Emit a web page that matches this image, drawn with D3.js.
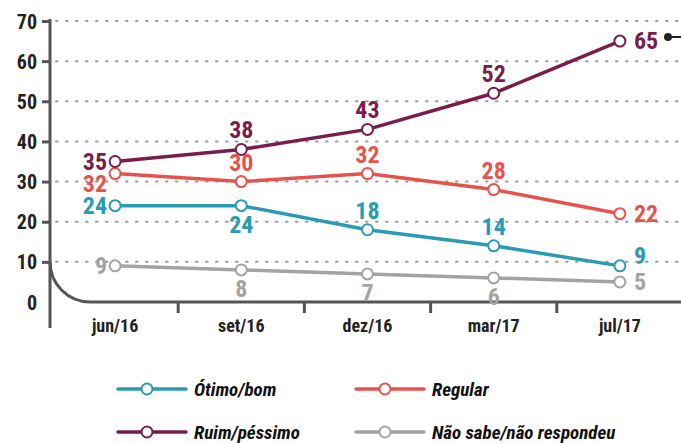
<!DOCTYPE html>
<html>
<head>
<meta charset="utf-8">
<script src="https://cdn.jsdelivr.net/npm/d3@7"></script>
<style>
  body { margin: 0; background: #fff; }
  svg text { font-family: "Liberation Sans Narrow", "Roboto Condensed", "DejaVu Sans Condensed", sans-serif; font-weight: bold; }
</style>
</head>
<body>
<div id="chart"></div>
<script>
// data
var months = ["jun/16", "set/16", "dez/16", "mar/17", "jul/17"];
var otimo = [24, 24, 18, 14, 9];
var regular = [32, 30, 32, 28, 22];
var ruim = [35, 38, 43, 52, 65];
var naoSabe = [9, 8, 7, 6, 5];
var yTicks = [0, 10, 20, 30, 40, 50, 60, 70];

// where each value label sits relative to its point
var series = [
  {name: "Não sabe/não respondeu", values: naoSabe, color: "#a3a3a3", pos: ["left", "below", "below", "below", "right"]},
  {name: "Ótimo/bom", values: otimo, color: "#2a9bb2", pos: ["left", "below", "above", "above", "rightUp"]},
  {name: "Regular", values: regular, color: "#e8524d", pos: ["leftDown", "above", "above", "above", "right"]},
  {name: "Ruim/péssimo", values: ruim, color: "#7a1d4a", pos: ["left", "above", "above", "above", "right"]}
];

var W = 681, H = 443;
var svg = d3.select("#chart").append("svg")
  .attr("width", W).attr("height", H);

var x = d3.scaleBand().domain(months).range([52, 683]);
var y = d3.scaleLinear().domain([0, 70]).range([302, 21]);
var cx = function (m) { return x(m) + x.bandwidth() / 2; };

var axisColor = "#555";

// dotted grid
svg.append("g").selectAll("line")
  .data(yTicks.filter(function (d) { return d > 0; }))
  .enter().append("line")
    .attr("x1", 56).attr("x2", W)
    .attr("y1", function (d) { return y(d); })
    .attr("y2", function (d) { return y(d); })
    .attr("stroke", "#999")
    .attr("stroke-width", 2)
    .attr("stroke-dasharray", "1.5,8.5")
    .attr("stroke-linecap", "round");

// y axis
var yAxis = svg.append("g")
  .attr("transform", "translate(50,0)")
  .call(d3.axisLeft(y).tickValues(yTicks).tickSize(8).tickPadding(5));
yAxis.select(".domain").remove();
yAxis.selectAll(".tick line").attr("stroke", axisColor).attr("stroke-width", 3)
  .filter(function (d) { return d === 0; }).remove();
yAxis.selectAll(".tick text").attr("fill", "#222").style("font-size", "20px")
  .attr("dy", "0.35em");
svg.append("line")
  .attr("x1", 50).attr("x2", 50).attr("y1", 19).attr("y2", 328)
  .attr("stroke", axisColor).attr("stroke-width", 3);

// curved baseline
var r = y(0) - y(10);
svg.append("path")
  .attr("d", "M50," + y(10) + " A" + r + "," + r + " 0 0 0 " + (50 + r) + "," + y(0) + " L" + W + "," + y(0))
  .attr("fill", "none").attr("stroke", axisColor).attr("stroke-width", 3);

// x axis
var xAxis = svg.append("g")
  .attr("transform", "translate(0," + y(0) + ")")
  .call(d3.axisBottom(x).tickSize(0).tickPadding(17));
xAxis.select(".domain").remove();
xAxis.selectAll(".tick text").attr("fill", "#222").style("font-size", "18px");
svg.append("g").selectAll("line")
  .data(months.slice(1))
  .enter().append("line")
    .attr("x1", function (d) { return x(d); })
    .attr("x2", function (d) { return x(d); })
    .attr("y1", y(0)).attr("y2", y(0) + 11)
    .attr("stroke", axisColor).attr("stroke-width", 3);

// lines
var line = d3.line()
  .x(function (d, i) { return cx(months[i]); })
  .y(function (d) { return y(d); });

series.forEach(function (s) {
  var g = svg.append("g");
  g.append("path")
    .attr("d", line(s.values))
    .attr("fill", "none")
    .attr("stroke", s.color)
    .attr("stroke-width", 3.5);

  g.selectAll("circle")
    .data(s.values)
    .enter().append("circle")
      .attr("cx", function (d, i) { return cx(months[i]); })
      .attr("cy", function (d) { return y(d); })
      .attr("r", 5.5)
      .attr("fill", "#fff")
      .attr("stroke", s.color)
      .attr("stroke-width", 2);

  g.selectAll("text")
    .data(s.values)
    .enter().append("text")
      .text(function (d) { return d; })
      .attr("fill", s.color)
      .style("font-size", "24px")
      .attr("x", function (d, i) {
        var p = s.pos[i], px = cx(months[i]);
        if (p === "left" || p === "leftDown") return px - 8;
        if (p === "right" || p === "rightUp") return px + 14;
        return px;
      })
      .attr("y", function (d, i) {
        var p = s.pos[i], py = y(d);
        if (p === "above") return py - 11;
        if (p === "below") return py + 27;
        if (p === "leftDown") return py + 18;
        if (p === "rightUp") return py - 2;
        return py + 8;
      })
      .attr("text-anchor", function (d, i) {
        var p = s.pos[i];
        if (p === "left" || p === "leftDown") return "end";
        if (p === "right" || p === "rightUp") return "start";
        return "middle";
      });
});

// marker at top right
svg.append("line")
  .attr("x1", 668).attr("x2", W).attr("y1", 37).attr("y2", 37)
  .attr("stroke", "#222").attr("stroke-width", 2);
svg.append("circle")
  .attr("cx", 668).attr("cy", 37).attr("r", 4).attr("fill", "#222");

// legend
var legendOrder = [series[1], series[2], series[3], series[0]];
var legend = svg.append("g").selectAll("g")
  .data(legendOrder)
  .enter().append("g")
    .attr("transform", function (d, i) {
      return "translate(" + (i % 2 === 0 ? 118 : 356) + "," + (i < 2 ? 389 : 432) + ")";
    });
legend.append("line")
  .attr("x1", 0).attr("x2", 68)
  .attr("stroke", function (d) { return d.color; })
  .attr("stroke-width", 3.5)
  .attr("stroke-linecap", "round");
legend.append("circle")
  .attr("cx", 29).attr("r", 5.5)
  .attr("fill", "#fff")
  .attr("stroke", function (d) { return d.color; })
  .attr("stroke-width", 2);
legend.append("text")
  .attr("x", 76).attr("y", 7)
  .style("font-size", "19px")
  .style("font-style", "italic")
  .attr("fill", "#111")
  .text(function (d) { return d.name; });
</script>
</body>
</html>
